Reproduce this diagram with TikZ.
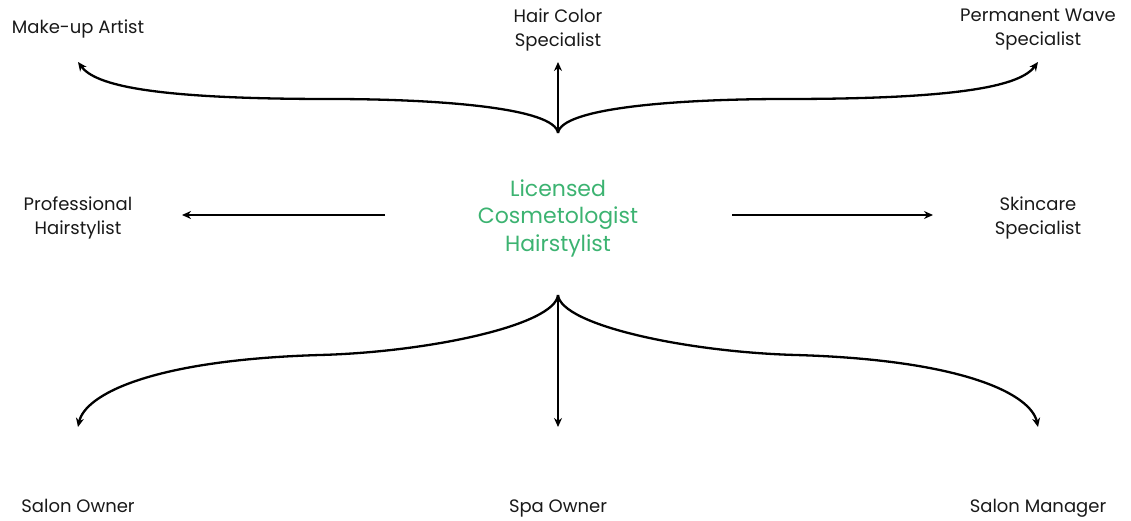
\documentclass[tikz,border=0pt]{standalone}
\usepackage{fontspec}
\setmainfont{Poppins}
\usetikzlibrary{arrows.meta,positioning}
\usepackage{xcolor}
\definecolor{CareerGreen}{RGB}{60,179,113}
\definecolor{LabelInk}{RGB}{25,25,25}

\begin{document}
\begin{tikzpicture}[x=1pt, y=-1pt,
  career/.style={font=\fontsize{18}{24}\selectfont, align=center, text=LabelInk, inner sep=0pt},
  title/.style={font=\fontsize{22}{27.5}\selectfont, align=center, text=CareerGreen, inner sep=0pt},
  branch/.style={line width=2.3pt, -{Stealth[length=9pt,width=8pt]}}]
\useasboundingbox (0,0) rectangle (1131,521);
% Centre title
\node[title] (title) at (558,218) {Licensed\\Cosmetologist\\Hairstylist};
% Career labels
\node[career, anchor=base] (makeup) at (78,34) {Make-up Artist};
\node[career] (color) at (558,30) {Hair Color\\Specialist};
\node[career] (wave) at (1038,30) {Permanent Wave\\Specialist};
\node[career] (stylist) at (78,218) {Professional\\Hairstylist};
\node[career] (skin) at (1038,218) {Skincare\\Specialist};
\node[career, anchor=base] (salon) at (78,512) {Salon Owner};
\node[career, anchor=base] (spa) at (558,512) {Spa Owner};
\node[career, anchor=base] (manager) at (1038,512) {Salon Manager};
% Hubs and arrow ends
\coordinate (topHub) at (558,133);
\coordinate (botHub) at (558,295);
\coordinate (makeupEnd) at (78,62);
\coordinate (colorEnd) at (558,62);
\coordinate (waveEnd) at (1038,62);
\coordinate (stylistStart) at (385,215);
\coordinate (stylistEnd) at (182,215);
\coordinate (skinStart) at (732,215);
\coordinate (skinEnd) at (933,215);
\coordinate (salonEnd) at (78,427);
\coordinate (spaEnd) at (558,427);
\coordinate (managerEnd) at (1038,427);
% Upper fan
\draw[branch] (topHub) .. controls (555,108) and (440,99) .. (330,99)
  .. controls (150,99) and (95,85) .. (makeupEnd);
\draw[branch] (topHub) -- (colorEnd);
\draw[branch] (topHub) .. controls (561,108) and (676,99) .. (786,99)
  .. controls (966,99) and (1021,85) .. (waveEnd);
% Side arrows
\draw[branch] (stylistStart) -- (stylistEnd);
\draw[branch] (skinStart) -- (skinEnd);
% Lower fan
\draw[branch] (botHub) .. controls (555,325) and (430,352) .. (320,355)
  .. controls (150,360) and (85,395) .. (salonEnd);
\draw[branch] (botHub) -- (spaEnd);
\draw[branch] (botHub) .. controls (561,325) and (686,352) .. (796,355)
  .. controls (966,360) and (1031,395) .. (managerEnd);
\end{tikzpicture}
\end{document}
